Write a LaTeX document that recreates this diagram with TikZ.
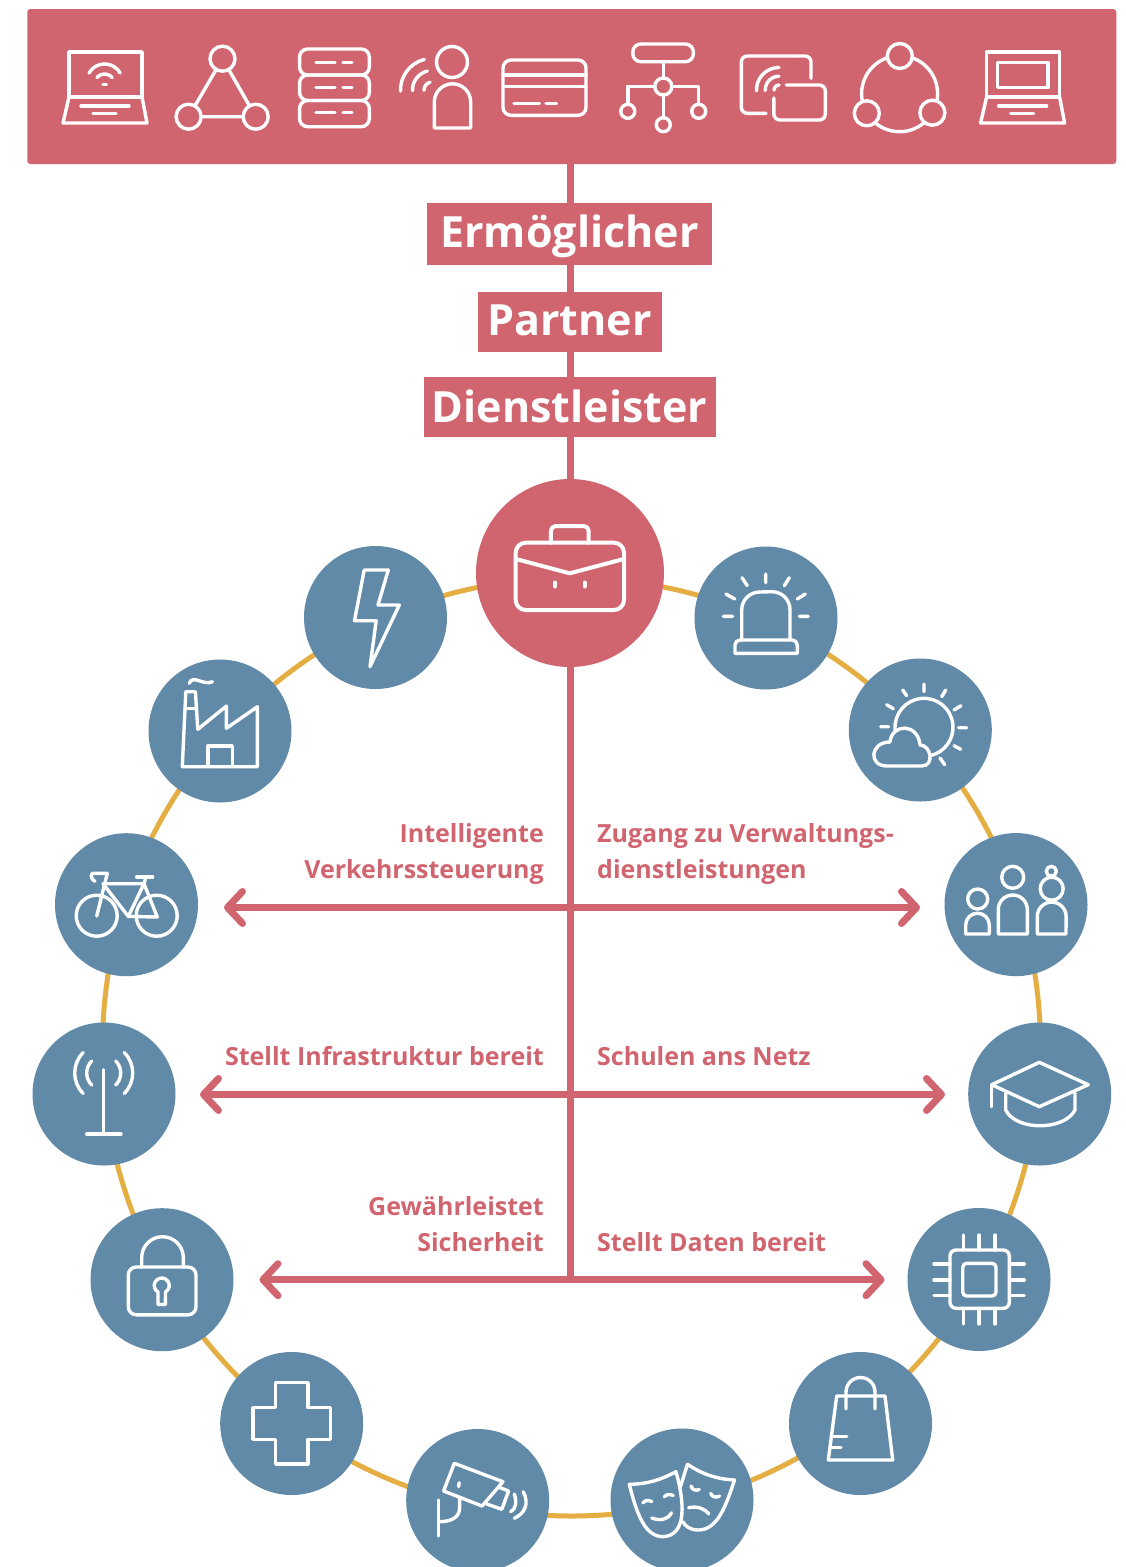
\documentclass[tikz,border=0pt]{standalone}
\usepackage{fontspec}
\setmainfont{Open Sans}
\usetikzlibrary{arrows.meta,backgrounds,positioning}
\definecolor{rosered}{HTML}{D1656F}
\definecolor{steelblue}{HTML}{6189A8}
\definecolor{ringgold}{HTML}{E4AE42}
% arc around a centre: cx, cy, from, to, radius
\newcommand{\wavearc}[5]{\draw[iconline] ([shift={(#3:#5pt)}]#1,#2) arc[start angle=#3,end angle=#4,radius=#5pt];}
% body with an arched top: left, right, arch start, bottom, radius
\newcommand{\archbody}[5]{\draw[iconline] (#1,#4) -- (#1,#3) arc[start angle=180,end angle=0,radius=#5pt] -- (#2,#4) -- cycle;}
% open laptop, shifted by x
\newcommand{\laptopbase}[1]{\begin{scope}[shift={(#1,0)}]
    \draw[iconline] (69,52) rectangle (142,97);
    \draw[iconline] (69,97) -- (63,123) -- (147,123) -- (142,97);
    \draw[iconline] (81,106) -- (129,106) (93,113.3) -- (116,113.3);
  \end{scope}}

\begin{document}
\begin{tikzpicture}[x=1pt,y=-1pt,
        iconline/.style={draw=white,line width=3.4pt,line cap=round,line join=round},
        iconfill/.style={iconline,fill=rosered},
        barbox/.style={rectangle,fill=rosered,rounded corners=3pt,minimum width=1089pt,minimum height=155pt},
        tagbox/.style={rectangle,fill=rosered,text=white,inner sep=0pt,minimum height=60pt,text height=36pt,text depth=6pt,font=\fontsize{43}{43}\selectfont\bfseries},
        hubdot/.style={circle,fill=rosered,minimum size=188pt,inner sep=0pt},
        spoke/.style={circle,fill=steelblue,minimum size=143pt,inner sep=0pt},
        ringline/.style={circle,draw=ringgold,line width=5pt,minimum size=938pt,inner sep=0pt},
        trunk/.style={draw=rosered,line width=7pt},
        bus/.style={draw=rosered,line width=7pt,-{Straight Barb[length=15pt,width=32pt,round]}},
        leftlabel/.style={anchor=east,align=right,inner sep=0pt,text=rosered,font=\fontsize{25}{36}\selectfont\bfseries},
        rightlabel/.style={anchor=west,align=left,inner sep=0pt,text=rosered,font=\fontsize{25}{36}\selectfont\bfseries}]
        \useasboundingbox (0,0) rectangle (1126,1567);
        \node[barbox] (bar) at (571.75,86.5) {};
        \node[tagbox,minimum width=285pt,minimum height=62pt,text depth=10pt] (enabler) at (569.5,234) {Ermöglicher};
        \node[tagbox,minimum width=184pt,text depth=9pt] (partner) [below of=enabler,node distance=88pt] {Partner};
        \node[tagbox,minimum width=292pt] (provider) [below of=partner,node distance=85pt] {Dienstleister};
        \node[hubdot] (hub) at (570,573) {};
        \node[spoke] (flash) at (375.5,617.5) {};
        \node[spoke] (factory) at (220,731) {};
        \node[spoke] (bike) at (126.5,904.7) {};
        \node[spoke] (mast) at (104,1094) {};
        \node[spoke] (lock) at (162,1279.7) {};
        \node[spoke] (cross) at (291.7,1423.5) {};
        \node[spoke] (camera) at (477.7,1500.5) {};
        \node[spoke] (masks) at (682,1500) {};
        \node[spoke] (bag) at (860.5,1423.5) {};
        \node[spoke] (chip) at (979,1279.5) {};
        \node[spoke] (hat) at (1039.7,1094) {};
        \node[spoke] (people) at (1016,904.6) {};
        \node[spoke] (sun) at (920.3,730) {};
        \node[spoke] (alarm) at (766,618) {};
        \coordinate (t1) at (570,907.5);
        \coordinate (t2) at (570,1094.5);
        \coordinate (t3) at (570,1279.7);
        \coordinate (l1) at (224,907.5);
        \coordinate (r1) at (920,907.5);
        \coordinate (l2) at (200,1094.5);
        \coordinate (r2) at (945,1094.5);
        \coordinate (l3) at (259.5,1279.7);
        \coordinate (r3) at (884.5,1279.7);
        \node[leftlabel] (traffic) at (544,854) {Intelligente\\Verkehrssteuerung};
        \node[rightlabel] (admin) at (597,854) {Zugang zu Verwaltungs-\\dienstleistungen};
        \node[leftlabel] (infra) at (544,1056) {Stellt Infrastruktur bereit};
        \node[rightlabel] (school) at (597,1056) {Schulen ans Netz};
        \node[leftlabel] (safety) at (544,1224) {Gewährleistet\\Sicherheit};
        \node[rightlabel] (data) at (597,1242) {Stellt Daten bereit};
        \begin{pgfonlayer}{background}
          \node[ringline] (ring) at (571.5,1047) {};
          \path[every edge/.append style={trunk}]
            (bar.south -| hub) edge (hub)
            (hub) edge (t3);
          \path[every edge/.append style={bus}]
            (t1) edge (l1)
            (t1) edge (r1)
            (t2) edge (l2)
            (t2) edge (r2)
            (t3) edge (l3)
            (t3) edge (r3);
        \end{pgfonlayer}
        % top bar
        \laptopbase{0}
        \wavearc{104.6}{82}{150}{30}{18}
        \wavearc{104.6}{84}{140}{40}{10}
        \draw[iconline] (103,84.3) -- (106.5,84.3);
        \draw[iconline] (222.5,58.7) -- (188.6,116.7) -- (255.7,116.7) -- cycle;
        \draw[iconfill] (222.5,58.7) circle[radius=12.5pt];
        \draw[iconfill] (188.6,116.7) circle[radius=12.5pt];
        \draw[iconfill] (255.7,116.7) circle[radius=12.5pt];
        \draw[iconline,rounded corners=8pt] (299.6,49) rectangle (369.3,75);
        \draw[iconline,rounded corners=8pt] (299.6,75) rectangle (369.3,100.5);
        \draw[iconline,rounded corners=8pt] (299.6,100.5) rectangle (369.3,126.7);
        \draw[iconline] (316,62.3) -- (335,62.3) (343,62.3) -- (352,62.3);
        \draw[iconline] (316,87.7) -- (335,87.7) (343,87.7) -- (352,87.7);
        \draw[iconline] (316,112.7) -- (335,112.7) (343,112.7) -- (352,112.7);
        \draw[iconline] (452,62) circle[radius=15.5pt];
        \archbody{434.3}{470.7}{102}{128}{18.2}
        \wavearc{432}{90}{104}{182}{31.5}
        \wavearc{432}{90}{104}{182}{19.5}
        \wavearc{432}{90}{104}{182}{8}
        \draw[iconline,rounded corners=8pt] (503,60) rectangle (586,115.3);
        \draw[iconline] (503,75) -- (586,75) (503,86.7) -- (586,86.7);
        \draw[iconline] (514,103.7) -- (539.5,103.7) (546,103.7) -- (556.5,103.7);
        \draw[iconline,rounded corners=8pt] (632.8,44) rectangle (693.4,61.7);
        \draw[iconline] (663.3,61.7) -- (663.3,124.7);
        \draw[iconline] (627.8,111.3) -- (627.8,86.3) -- (698.7,86.3) -- (698.7,111.3);
        \draw[iconfill] (663.3,86.5) circle[radius=8.5pt];
        \draw[iconfill] (627.8,111.3) circle[radius=7pt];
        \draw[iconfill] (698.7,111.3) circle[radius=7pt];
        \draw[iconfill] (663.3,124.7) circle[radius=7pt];
        \draw[iconline,rounded corners=6pt] (811,78.3) -- (811,56) -- (741.3,56) -- (741.3,113.3) -- (766,113.3);
        \draw[iconline,rounded corners=6pt] (786.3,85) -- (825.3,85) -- (825.3,120) -- (773.9,120) -- (773.9,98);
        \wavearc{779}{90}{90}{182}{22.5}
        \wavearc{779}{90}{90}{182}{13.8}
        \wavearc{779}{90}{90}{182}{5}
        \draw[iconline] (899.6,93.7) circle[radius=38pt];
        \draw[iconfill] (899.8,56) circle[radius=12.5pt];
        \draw[iconfill] (866.8,113.3) circle[radius=12.5pt];
        \draw[iconfill] (932.4,112.7) circle[radius=12.5pt];
        \laptopbase{917.6}
        \draw[iconline] (997.3,62.3) rectangle (1048,87.7);
        % briefcase
        \begin{scope}[iconline/.append style={line width=4pt}]
          \draw[iconline,rounded corners=10pt] (515.7,542.7) rectangle (624,610);
          \draw[iconline,rounded corners=5pt] (550.8,542.7) -- (550.8,526) -- (588.7,526) -- (588.7,542.7);
          \draw[iconline] (517,559.3) -- (569.7,573.3) -- (622.6,559.3);
          \draw[iconline] (555,582.5) -- (555,586.5) (584.5,582.5) -- (584.5,586.5);
        \end{scope}
        % ring, clockwise from the hub's left
        \draw[iconline] (364.2,570) -- (388.3,570) -- (378,605) -- (399.3,605) -- (370,666.7) -- (376.2,620.7) -- (354.5,620.7) -- cycle;
        \draw[iconline] (182.3,766.7) -- (185.8,691.7) -- (195.4,691.7) -- (197.8,729.3) -- (226.4,706) -- (226.4,728.3) -- (257.4,706.7) -- (257.4,766.7) -- cycle;
        \draw[iconline] (186.8,708.3) -- (195.4,708.3);
        \draw[iconline] (207.8,766.7) -- (207.8,746) -- (232.3,746) -- (232.3,766.7);
        \draw[iconline] (189.2,683.3) .. controls (193,674) and (203,686) .. (212.6,681.7);
        \draw[iconline] (96.7,915.7) circle[radius=20.5pt];
        \draw[iconline] (156.7,915.7) circle[radius=20.5pt];
        \draw[iconline] (103,883.7) -- (144,883.7) -- (128.3,916.4) -- (157.3,917) -- (144,883.7);
        \draw[iconline] (103,883.7) -- (128.3,916.4);
        \draw[iconline] (107.3,873.4) -- (96.7,916);
        \draw[iconline] (95,881.3) .. controls (91,880) and (90,873.4) .. (93,873.4) -- (107.3,873.4);
        \draw[iconline] (144,883.7) -- (146,876.8);
        \draw[iconline] (136.7,876.8) -- (152.7,876.8);
        \draw[iconline] (103.7,1069.7) -- (103.7,1134);
        \draw[iconline] (86.7,1134) -- (121,1134);
        \wavearc{103.7}{1073}{135}{225}{29}
        \wavearc{103.7}{1073}{135}{225}{17}
        \wavearc{103.7}{1073}{45}{-45}{29}
        \wavearc{103.7}{1073}{45}{-45}{17}
        \draw[iconline,rounded corners=8pt] (128.3,1267) rectangle (196,1314.8);
        \draw[iconline] (141.7,1267) -- (141.7,1257.5) arc[start angle=180,end angle=0,radius=20.8pt] -- (183.3,1267);
        \draw[iconline] (158,1304.5) -- (158,1292) arc[start angle=240,end angle=-60,radius=7.5pt] -- (165.4,1304.5) -- cycle;
        \draw[iconline] (275.7,1382.7) -- (307.9,1382.7) -- (307.9,1407.7) -- (330.7,1407.7) -- (330.7,1439.3) -- (307.9,1439.3) -- (307.9,1464) -- (275.7,1464) -- (275.7,1439.3) -- (252.9,1439.3) -- (252.9,1407.7) -- (275.7,1407.7) -- cycle;
        \draw[iconline] (454.3,1463.3) -- (502.9,1481.7) -- (482.1,1506) -- (443.6,1491) -- cycle;
        \draw[iconline] (499,1487.3) -- (508.6,1491) -- (501.8,1509.3) -- (486.8,1504);
        \draw[iconline] (459.2,1482.7) -- (458.6,1486.7);
        \draw[iconline] (438.2,1500) -- (438.2,1536);
        \draw[iconline] (459.6,1498.3) -- (459.6,1508) .. controls (459.6,1518) and (450,1521.7) .. (439.3,1521.7);
        \draw[iconline] (514.3,1494) .. controls (517,1502) and (516,1509) .. (510.7,1511.7);
        \draw[iconline] (523.2,1491.7) .. controls (530,1504) and (524,1514) .. (514.3,1518.3);
        \draw[iconline] (629.3,1484.3) .. controls (648,1484) and (660,1480) .. (676,1471.7) .. controls (684,1500) and (688,1536) .. (662.5,1536.7) .. controls (645,1536) and (637,1515) .. cycle;
        \draw[iconline] (680.4,1486.7) -- (687.5,1464.3) .. controls (702,1474) and (716,1479) .. (734.6,1480) .. controls (726,1505) and (718,1530) .. (698.2,1530) .. controls (690,1530) and (685,1526) .. (682.9,1521.7);
        \draw[iconline] (642.9,1503) .. controls (645,1500) and (648,1500) .. (651.8,1501.5);
        \draw[iconline] (664.3,1497) .. controls (666,1494) and (670,1494) .. (673.2,1495.5);
        \draw[iconline] (651.8,1518) .. controls (660,1521) and (668,1520) .. (671.4,1512.7);
        \draw[iconline] (691,1486) .. controls (692,1490) and (696,1491) .. (699.3,1489.5);
        \draw[iconline] (710.7,1493.3) .. controls (712,1497) and (716,1498) .. (719.6,1496);
        \draw[iconline] (688.6,1507.7) .. controls (697,1506) and (704,1508) .. (708.9,1514);
        \draw[iconline] (836.7,1396) -- (885,1396) -- (892.7,1460) -- (828.3,1460) -- cycle;
        \draw[iconline] (846,1409) -- (846,1392) arc[start angle=180,end angle=0,radius=14.5pt] -- (875,1409);
        \draw[iconline] (833.3,1436.7) -- (846.7,1436.7) (831.7,1447.3) -- (841,1447.3);
        \draw[iconline,rounded corners=6pt] (950,1250) rectangle (1009.3,1308.3);
        \draw[iconline,rounded corners=4pt] (962.7,1263.3) rectangle (996,1296);
        \foreach \pinx in {963.3,979,995} {
          \draw[iconline] (\pinx,1235) -- (\pinx,1250) (\pinx,1308.3) -- (\pinx,1324);
        }
        \foreach \piny in {1264,1280,1295.7} {
          \draw[iconline] (934,\piny) -- (950,\piny) (1009.3,\piny) -- (1024.3,\piny);
        }
        \draw[iconline] (1039.3,1062.3) -- (1088.3,1084.7) -- (1039.3,1106.7) -- (991.7,1084.7) -- cycle;
        \draw[iconline] (991.7,1084.7) -- (991.7,1106.7);
        \draw[iconline] (1005.7,1093.3) -- (1005.7,1110) .. controls (1016,1131) and (1064,1131) .. (1075,1110) -- (1075,1093.3);
        \draw[iconline] (977.7,899) circle[radius=10pt];
        \archbody{965.7}{989.3}{925}{934}{11.8}
        \draw[iconline] (1012.7,877.3) circle[radius=11pt];
        \archbody{998.3}{1027.3}{909.5}{934}{14.5}
        \draw[iconline] (1051.7,888.7) circle[radius=11.5pt];
        \draw[iconline] (1051.3,871.3) circle[radius=5pt];
        \archbody{1037.3}{1066}{916.5}{934}{14.4}
        \wavearc{924}{727.3}{185}{-76}{29}
        \draw[iconline] (887,766) .. controls (868,766) and (870,742) .. (890,742) .. controls (892,723) and (918,723) .. (920,745) .. controls (931,745) and (935,766) .. (921.7,766) -- cycle;
        \draw[iconline] (924,684) -- (924,691.7) (902.7,690) -- (906.7,695.7) (945.7,690) -- (941.7,696.7) (886.7,704.7) -- (893.3,708.7) (961,705.7) -- (954,710) (880.7,726.7) -- (888.7,726.7) (958.7,727.7) -- (966.7,727.7) (954,745.7) -- (960.7,749.3) (940,758) -- (944.7,764.7);
        \draw[iconline] (741.7,640) -- (741.7,610) arc[start angle=180,end angle=90,radius=18pt] -- (772,591.7) arc[start angle=90,end angle=0,radius=18pt] -- (790,640);
        \draw[iconline] (735,653.3) -- (735,645) arc[start angle=180,end angle=90,radius=5pt] -- (792.3,640) arc[start angle=90,end angle=0,radius=5pt] -- (797.3,653.3) -- cycle;
        \draw[iconline] (765.7,574) -- (765.7,582.7) (742,577.7) -- (747.3,585.7) (789.3,577.7) -- (784.3,585.7) (726,594) -- (734.7,599) (805.3,594) -- (797.3,599) (723.3,616.3) -- (732.7,616.3) (799.3,616.3) -- (808.3,616.3);
      \end{tikzpicture}
\end{document}
